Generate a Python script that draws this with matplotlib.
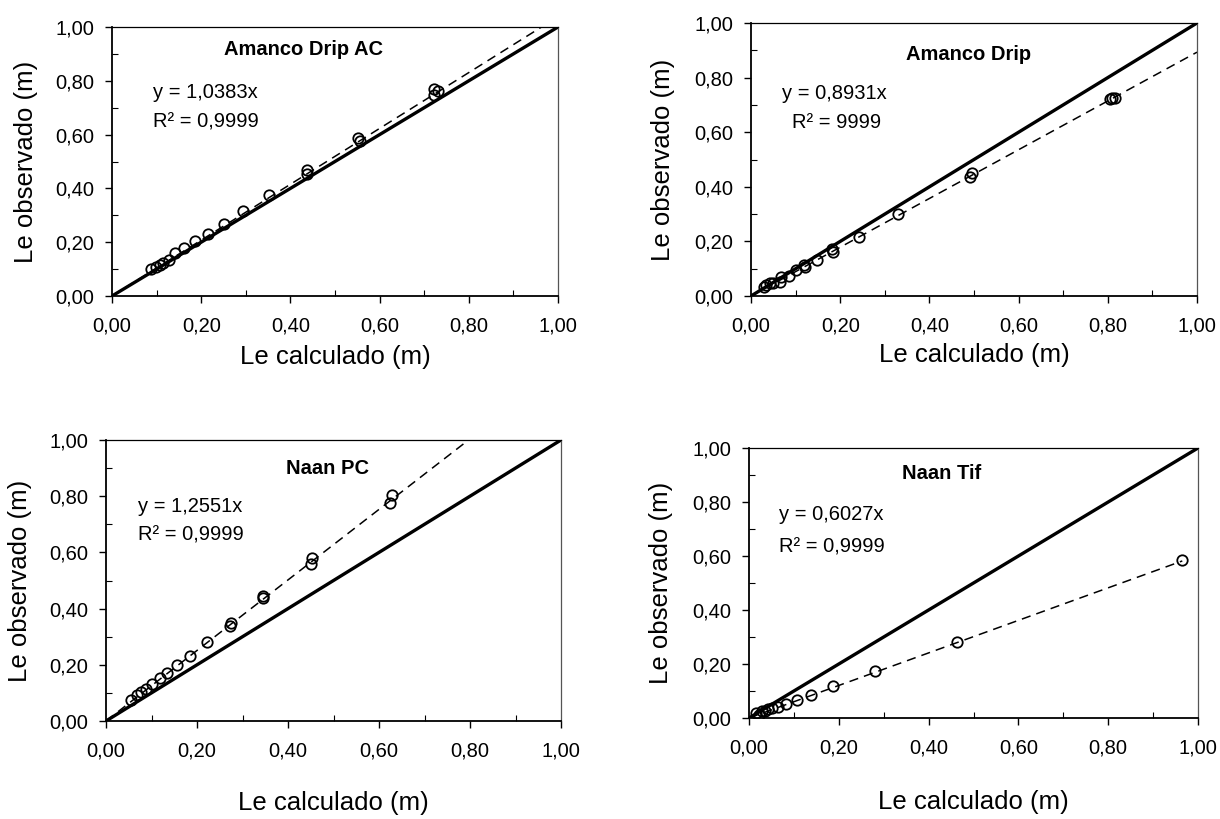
import matplotlib
matplotlib.use("Agg")
import matplotlib.pyplot as plt
from matplotlib.ticker import MultipleLocator, FuncFormatter

plt.rcParams['font.family'] = ['Liberation Sans', 'DejaVu Sans']

# ---------------- data ----------------
titles = ["Amanco Drip AC", "Amanco Drip", "Naan PC", "Naan Tif"]
eq_texts = ["y = 1,0383x", "y = 0,8931x", "y = 1,2551x", "y = 0,6027x"]
r2_texts = ["R² = 0,9999", "R² = 9999", "R² = 0,9999", "R² = 0,9999"]
slopes = [1.0383, 0.8931, 1.2551, 0.6027]

x_ac = [0.088, 0.099, 0.108, 0.115, 0.128, 0.142, 0.162, 0.187, 0.215, 0.251,
        0.293, 0.353, 0.437, 0.437, 0.551, 0.555, 0.721, 0.723, 0.730]
y_ac = [0.099, 0.109, 0.117, 0.123, 0.135, 0.158, 0.177, 0.205, 0.232, 0.269,
        0.316, 0.374, 0.454, 0.467, 0.588, 0.578, 0.748, 0.769, 0.763]

x_ad = [0.029, 0.033, 0.042, 0.050, 0.064, 0.068, 0.086, 0.101, 0.118, 0.121,
        0.147, 0.182, 0.183, 0.243, 0.330, 0.492, 0.496, 0.804, 0.810, 0.817]
y_ad = [0.032, 0.040, 0.046, 0.049, 0.052, 0.071, 0.073, 0.095, 0.113, 0.107,
        0.132, 0.171, 0.162, 0.217, 0.299, 0.437, 0.449, 0.723, 0.726, 0.726]

x_pc = [0.055, 0.068, 0.076, 0.089, 0.102, 0.119, 0.135, 0.155, 0.184, 0.223,
        0.272, 0.274, 0.345, 0.345, 0.450, 0.452, 0.624, 0.629]
y_pc = [0.073, 0.093, 0.103, 0.115, 0.132, 0.152, 0.171, 0.201, 0.233, 0.280,
        0.339, 0.348, 0.437, 0.445, 0.560, 0.581, 0.776, 0.803]

x_tif = [0.015, 0.022, 0.028, 0.035, 0.043, 0.052, 0.065, 0.082, 0.106, 0.137,
         0.188, 0.280, 0.464, 0.965]
y_tif = [0.019, 0.012, 0.025, 0.025, 0.033, 0.037, 0.041, 0.053, 0.065, 0.086,
         0.117, 0.173, 0.280, 0.586]

xs = [x_ac, x_ad, x_pc, x_tif]
ys = [y_ac, y_ad, y_pc, y_tif]
trend_to_last = [False, False, False, True]

# ---------------- layout ----------------
W, H = 1220, 819
fig = plt.figure(figsize=(W / 100, H / 100), dpi=100)

# (left, right, top, bottom) in pixels
boxes = [(112, 558, 27, 296), (751, 1197, 23, 296),
         (106, 561, 440, 721), (749, 1198, 448, 718)]
title_pos = [(0.43, 0.915), (0.488, 0.883), (0.487, 0.899), (0.428, 0.906)]
eq_pos = [(0.091, 0.756, 0.648), (0.07, 0.742, 0.635),
          (0.07, 0.765, 0.662), (0.0675, 0.752, 0.634)]
r2_x = [0.091, 0.092, 0.07, 0.0675]
xlab_y = [-0.227, -0.216, -0.292, -0.31]
ylab_x = [-0.193, -0.197, -0.19, -0.196]

fmt = FuncFormatter(lambda v, p: f"{v:.2f}".replace(".", ","))

for i in range(4):
    l, r, t, b = boxes[i]
    ax = fig.add_axes([l / W, 1 - b / H, (r - l) / W, (b - t) / H])
    ax.set_xlim(0, 1)
    ax.set_ylim(0, 1)

    # 1:1 line
    ax.plot([0, 1], [0, 1], color='black', lw=2.4, solid_capstyle='butt', zorder=3)
    # trend line
    xend = max(xs[i]) if trend_to_last[i] else 1.0
    ax.plot([0, xend], [0, slopes[i] * xend], color='black', lw=1.1,
            dashes=(6, 4), zorder=3)
    # data
    ax.plot(xs[i], ys[i], linestyle='none', marker='o', markersize=7.5,
            markerfacecolor='none', markeredgecolor='black', markeredgewidth=1.3,
            zorder=4)

    ax.text(title_pos[i][0], title_pos[i][1], titles[i], fontsize=14.5,
            fontweight='bold', ha='center', va='center', transform=ax.transAxes)
    ax.text(eq_pos[i][0], eq_pos[i][1], eq_texts[i], fontsize=14.5,
            ha='left', va='center', transform=ax.transAxes)
    ax.text(r2_x[i], eq_pos[i][2], r2_texts[i], fontsize=14.5,
            ha='left', va='center', transform=ax.transAxes)

    ax.xaxis.set_major_locator(MultipleLocator(0.2))
    ax.xaxis.set_minor_locator(MultipleLocator(0.1))
    ax.yaxis.set_major_locator(MultipleLocator(0.2))
    ax.yaxis.set_minor_locator(MultipleLocator(0.1))
    ax.xaxis.set_major_formatter(fmt)
    ax.yaxis.set_major_formatter(fmt)
    ax.tick_params(axis='both', which='major', direction='out', length=5,
                   width=1.0, labelsize=14.5)
    ax.tick_params(axis='x', which='major', pad=10)
    ax.tick_params(axis='y', which='major', pad=8)
    ax.tick_params(axis='both', which='minor', direction='in', length=4, width=0.8)
    ax.tick_params(top=False, right=False, which='both')

    ax.spines['left'].set_linewidth(1.3)
    ax.spines['bottom'].set_linewidth(1.3)
    ax.spines['top'].set_linewidth(0.9)
    ax.spines['right'].set_linewidth(0.9)
    ax.spines['right'].set_color('#555555')

    ax.set_xlabel("Le calculado (m)", fontsize=18.5)
    ax.set_ylabel("Le observado (m)", fontsize=18.5)
    ax.xaxis.set_label_coords(0.5, xlab_y[i])
    ax.xaxis.label.set_va('center')
    ax.yaxis.set_label_coords(ylab_x[i], 0.5)
    ax.yaxis.label.set_va('center')

fig.savefig("out.png", dpi=100)
